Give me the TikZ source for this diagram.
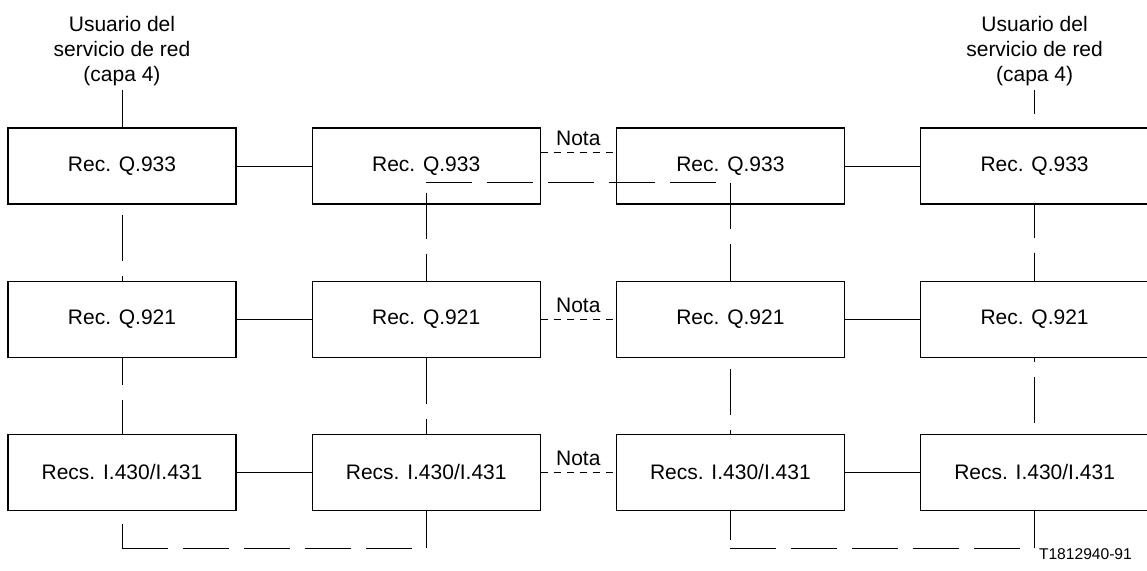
\documentclass[tikz,border=0pt]{standalone}
\usepackage{fontspec}
\setmainfont{Liberation Sans}
\usetikzlibrary{positioning,calc}
\tikzset{
  recbox/.style={draw,line width=0.6pt,minimum width=114pt,minimum height=38pt,inner sep=0pt},
  longdash/.style={dash pattern=on 23pt off 7.5pt},
  notedash/.style={dash pattern=on 3.5pt off 3pt},
  userlabel/.style={align=center,inner sep=2pt},
}

\begin{document}
\begin{tikzpicture}[x=0.5pt,y=-0.5pt,line width=0.5pt,node distance=38pt and 37.5pt,
                    font=\fontsize{10.5}{12.5}\selectfont]
  \useasboundingbox (0,0) rectangle (1147,570);
  % Q.933
  \node[recbox] (q933a) at (122,166) {Rec. Q.933};
  \node[recbox,right=of q933a] (q933b) {Rec. Q.933};
  \node[recbox,right=of q933b] (q933c) {Rec. Q.933};
  \node[recbox,right=of q933c] (q933d) {Rec. Q.933};
  % Q.921
  \node[recbox,below=of q933a] (q921a) {Rec. Q.921};
  \node[recbox,below=of q933b] (q921b) {Rec. Q.921};
  \node[recbox,below=of q933c] (q921c) {Rec. Q.921};
  \node[recbox,below=of q933d] (q921d) {Rec. Q.921};
  % I.430/I.431
  \node[recbox,below=of q921a] (i430a) {Recs. I.430/I.431};
  \node[recbox,below=of q921b] (i430b) {Recs. I.430/I.431};
  \node[recbox,below=of q921c] (i430c) {Recs. I.430/I.431};
  \node[recbox,below=of q921d] (i430d) {Recs. I.430/I.431};

  \node[userlabel,above=18.5pt of q933a] (usera) {Usuario del\\servicio de red\\(capa 4)};
  \node[userlabel,above=18.5pt of q933d] (userd) {Usuario del\\servicio de red\\(capa 4)};
  \node[anchor=east,font=\fontsize{7.8}{9}\selectfont] (tref) at (1139,554) {T1812940-91};

  \draw[longdash] (usera) -- (q933a);
  \draw[longdash,dash phase=11pt] (userd) -- (q933d);

  % horizontal links
  \draw (q933a) -- (q933b);
  \draw[notedash] ([yshift=7pt]q933b.east) -- node[above,inner sep=3pt] (nota1) {Nota} ([yshift=7pt]q933c.west);
  \draw (q933c) -- (q933d);
  \draw (q921a) -- (q921b);
  \draw[notedash] (q921b) -- node[above,inner sep=3pt] (nota2) {Nota} (q921c);
  \draw (q921c) -- (q921d);
  \draw (i430a) -- (i430b);
  \draw[notedash] (i430b) -- node[above,inner sep=3pt] (nota3) {Nota} (i430c);
  \draw (i430c) -- (i430d);

  % vertical links
  \coordinate (h1) at ([yshift=11pt]q933b.south);
  \coordinate (h2) at ([yshift=11pt]q933c.south);
  \draw[longdash,dash phase=25.5pt] (q933a) -- (q921a);
  \draw[longdash,dash phase=9.5pt] (q921a) -- (i430a);
  \draw[longdash] ([yshift=6pt]q933b.south) -- (q921b);
  \draw[longdash] (q921b) -- (i430b);
  \draw[longdash] (h1) -- (h2);
  \draw[longdash] (h2) -- (q921c);
  \draw[longdash,dash phase=25pt] (q921c) -- (i430c);
  \draw[longdash,dash phase=6.5pt] (q933d) -- (q921d);
  \draw[longdash,dash phase=21pt] (q921d) -- (i430d);

  % bottom loops
  \path (i430a.south) ++(0,37) coordinate (b1);
  \path (i430b.south) ++(0,37) coordinate (b2);
  \path (i430c.south) ++(0,37) coordinate (b3);
  \path (i430d.south) ++(0,37) coordinate (b4);
  \draw[longdash,dash phase=24pt] (i430a.south) -- (b1);
  \draw[longdash] (b1) -- (b2);
  \draw (b2) -- (i430b.south);
  \draw[longdash,dash phase=8.5pt] (i430c.south) -- (b3);
  \draw[longdash] (b3) -- (b4);
  \draw (b4) -- (i430d.south);
\end{tikzpicture}
\end{document}
